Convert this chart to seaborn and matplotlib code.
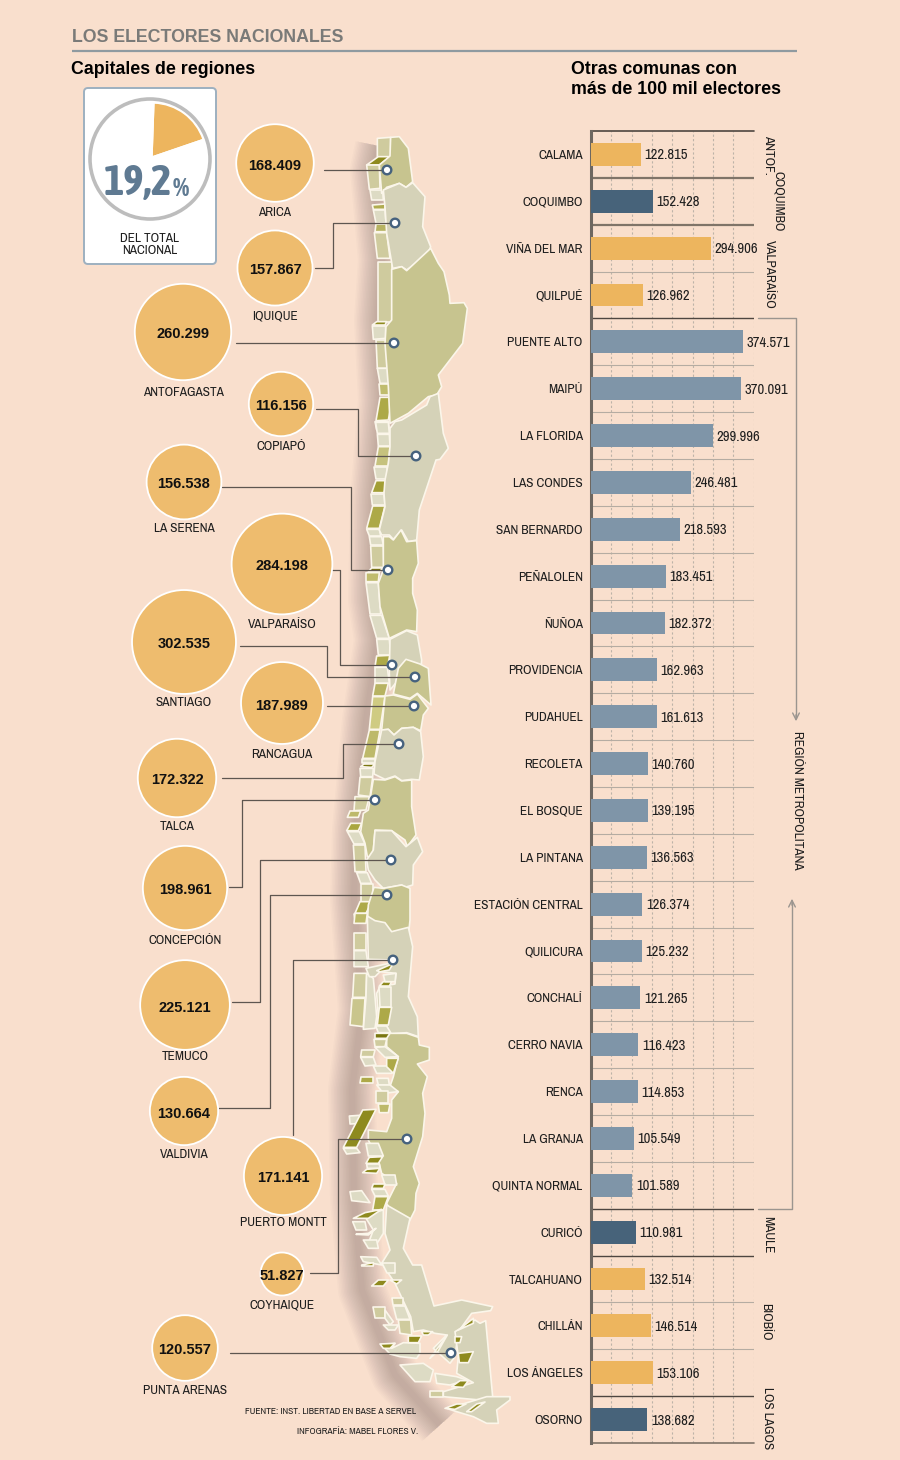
import matplotlib
matplotlib.use("Agg")
import matplotlib.pyplot as plt
from matplotlib.patches import Polygon, FancyBboxPatch, Circle
from matplotlib.colors import Normalize
import pandas as pd
import seaborn as sns

sns.set_theme(style="white")
NARROW = ["Archivo Narrow", "Asap Condensed", "Liberation Sans", "DejaVu Sans"]
NARROW_B = ["Asap Condensed", "Liberation Sans", "DejaVu Sans"]
BOLD = ["Liberation Sans", "DejaVu Sans"]
plt.rcParams["font.family"] = NARROW

# data: capitals
capitales = ["ARICA", "IQUIQUE", "ANTOFAGASTA", "COPIAPÓ", "LA SERENA", "VALPARAÍSO", "SANTIAGO", "RANCAGUA",
             "TALCA", "CONCEPCIÓN", "TEMUCO", "VALDIVIA", "PUERTO MONTT", "COYHAIQUE", "PUNTA ARENAS"]
electores_cap = [168409, 157867, 260299, 116156, 156538, 284198, 302535, 187989,
                 172322, 198961, 225121, 130664, 171141, 51827, 120557]

# data: other communes
comunas = ["CALAMA", "COQUIMBO", "VIÑA DEL MAR", "QUILPUÉ", "PUENTE ALTO", "MAIPÚ", "LA FLORIDA", "LAS CONDES",
           "SAN BERNARDO", "PEÑALOLEN", "ÑUÑOA", "PROVIDENCIA", "PUDAHUEL", "RECOLETA", "EL BOSQUE", "LA PINTANA",
           "ESTACIÓN CENTRAL", "QUILICURA", "CONCHALÍ", "CERRO NAVIA", "RENCA", "LA GRANJA", "QUINTA NORMAL",
           "CURICÓ", "TALCAHUANO", "CHILLÁN", "LOS ÁNGELES", "OSORNO"]
electores_com = [122815, 152428, 294906, 126962, 374571, 370091, 299996, 246481,
                 218593, 183451, 182372, 162963, 161613, 140760, 139195, 136563,
                 126374, 125232, 121265, 116423, 114853, 105549, 101589,
                 110981, 132514, 146514, 153106, 138682]
grupo_com = ["a", "b", "a", "a"] + ["m"] * 19 + ["b", "a", "a", "a", "b"]
pct_nacional = 19.2

BG = "#F9DFCD"
GOLD = "#EDB55E"
DARK = "#47637A"
STEEL = "#7F95A8"
CREAM = "#D5D2B8"
OLIVE = "#C7C48F"
INK = "#1E1E1E"

# layout of bubbles: centre x, centre y, label y
pos_cap = [(275, 163, 211), (275, 268, 315), (183, 332, 391), (281, 404, 445), (184, 482, 527), (282, 564, 624),
           (184, 642, 702), (282, 703, 753), (177, 778, 825), (185, 888, 939), (185, 1005, 1056), (184, 1111, 1154),
           (283, 1176, 1222), (282, 1274, 1304), (185, 1348, 1389)]

# leader lines, last point is the city dot
leaders = [
    [(324, 170), (387, 170)],
    [(315, 268), (333, 268), (333, 223), (395, 223)],
    [(236, 343), (394, 343)],
    [(316, 409), (358, 409), (358, 456), (416, 456)],
    [(222, 487), (351, 487), (351, 570), (388, 570)],
    [(332, 570), (340, 570), (340, 665), (392, 665)],
    [(240, 646), (327, 646), (327, 677), (415, 677)],
    [(327, 706), (414, 706)],
    [(222, 778), (343, 778), (343, 744), (399, 744)],
    [(229, 887), (242, 887), (242, 800), (375, 800)],
    [(232, 1002), (260, 1002), (260, 860), (391, 860)],
    [(217, 1108), (270, 1108), (270, 895), (387, 895)],
    [(293, 1135), (293, 960), (393, 960)],
    [(310, 1273), (338, 1273), (338, 1139), (407, 1139)],
    [(230, 1353), (451, 1353)],
]


def z(ox, oy, pts):
    # map outlines were traced on 3x crops, back to figure pixels
    return [(ox + a / 3, oy + b / 3) for a, b in pts]


Z3, Z6, Z7, Z8, Z4 = (340, 130), (340, 390), (330, 650), (330, 910), (340, 1200)
C_DK, C_MID, C_LO, C_CR = "#8E8A1E", "#ADA948", "#CFCB9E", "#DDDBC4"

# coast islands and strips: (origin, colour, points)
islas = [
    (Z3, C_LO, [(112, 25), (152, 22), (152, 80), (112, 100)]),
    (Z3, C_DK, [(80, 105), (115, 80), (150, 80), (118, 105)]),
    (Z3, C_LO, [(80, 105), (118, 105), (120, 175), (88, 178)]),
    (Z3, C_CR, [(90, 180), (128, 180), (130, 210), (95, 210)]),
    (Z3, "#B0AC50", [(97, 225), (135, 222), (135, 238), (100, 238)]),
    (Z3, C_CR, [(100, 240), (135, 240), (138, 280), (108, 280)]),
    (Z3, "#B7B362", [(108, 282), (145, 282), (140, 305), (105, 305)]),
    (Z3, C_LO, [(103, 308), (140, 308), (150, 385), (112, 385)]),
    (Z3, C_LO, [(115, 395), (155, 395), (155, 575), (115, 575)]),
    (Z3, C_CR, [(97, 588), (137, 588), (137, 625), (100, 628)]),
    (Z3, C_DK, [(97, 585), (110, 575), (140, 575), (135, 585)]),
    (Z3, C_LO, [(108, 630), (147, 630), (150, 715), (112, 715)]),
    (Z3, C_CR, [(112, 715), (148, 715), (155, 760), (120, 760)]),
    (Z3, "#C0BC6E", [(118, 762), (155, 762), (155, 795), (120, 795)]),
    (Z3, C_MID, [(120, 802), (158, 802), (145, 870), (108, 872)]),
    (Z3, C_CR, [(105, 875), (145, 875), (148, 900), (110, 900)]),
    (Z6, C_CR, [(107, 97), (145, 97), (148, 130), (112, 130)]),
    (Z6, C_CR, [(112, 133), (148, 133), (150, 168), (115, 168)]),
    (Z6, "#C6C27E", [(115, 170), (150, 170), (145, 228), (105, 228)]),
    (Z6, C_CR, [(103, 232), (142, 232), (142, 268), (108, 268)]),
    (Z6, "#A29E35", [(108, 272), (145, 272), (132, 308), (95, 308)]),
    (Z6, C_CR, [(93, 312), (132, 312), (135, 345), (97, 345)]),
    (Z6, C_MID, [(98, 348), (135, 348), (118, 415), (80, 415)]),
    (Z6, C_CR, [(80, 418), (118, 418), (122, 438), (88, 438)]),
    (Z6, C_CR, [(88, 440), (125, 440), (130, 465), (92, 465)]),
    (Z6, C_LO, [(92, 468), (130, 468), (132, 532), (95, 532)]),
    (Z6, "#7A7610", [(85, 545), (95, 534), (130, 534), (118, 545)]),
    (Z6, "#C0BC6E", [(78, 548), (118, 548), (115, 575), (78, 575)]),
    (Z6, C_CR, [(78, 578), (115, 578), (122, 672), (90, 672)]),
    (Z6, C_CR, [(90, 676), (125, 676), (148, 745), (110, 745)]),
    (Z6, C_CR, [(110, 748), (148, 748), (152, 795), (115, 795)]),
    (Z7, C_MID, [(140, 18), (180, 16), (172, 50), (135, 50)]),
    (Z7, C_CR, [(135, 52), (172, 52), (178, 100), (135, 100)]),
    (Z7, "#B7B362", [(135, 100), (175, 100), (165, 138), (128, 138)]),
    (Z7, "#CFCB82", [(128, 140), (165, 140), (150, 238), (118, 238)]),
    (Z7, "#BDB96A", [(118, 240), (150, 240), (135, 325), (98, 325)]),
    (Z7, C_CR, [(97, 328), (135, 328), (135, 340), (95, 340)]),
    (Z7, "#7A7610", [(92, 350), (102, 342), (135, 342), (125, 352)]),
    (Z7, C_CR, [(90, 355), (130, 355), (128, 380), (92, 380)]),
    (Z7, C_LO, [(90, 382), (128, 382), (120, 440), (85, 435)]),
    (Z7, C_LO, [(75, 440), (118, 440), (108, 480), (72, 482)]),
    (Z7, "#BDB96A", [(60, 483), (92, 483), (85, 502), (52, 502)]),
    (Z7, "#AAA640", [(62, 520), (95, 520), (85, 542), (50, 542)]),
    (Z7, C_CR, [(52, 545), (88, 545), (105, 582), (72, 582)]),
    (Z7, C_LO, [(70, 585), (105, 585), (108, 665), (75, 665)]),
    (Z7, C_CR, [(80, 668), (112, 668), (125, 700), (92, 700)]),
    (Z7, C_LO, [(92, 702), (128, 702), (128, 755), (92, 755)]),
    (Z7, C_MID, [(90, 755), (125, 755), (108, 790), (75, 790)]),
    (Z7, C_CR, [(72, 792), (110, 792), (112, 810), (75, 810)]),
    (Z8, "#BDB96A", [(75, 10), (112, 10), (108, 40), (72, 40)]),
    (Z8, C_LO, [(72, 190), (110, 190), (108, 262), (68, 262)]),
    (Z8, "#C9C58C", [(66, 265), (105, 265), (100, 350), (60, 345)]),
    (Z8, C_CR, [(110, 190), (130, 205), (135, 260), (140, 320), (135, 355), (100, 358), (108, 262)]),
    (Z8, C_LO, [(72, 70), (108, 70), (108, 120), (72, 120)]),
    (Z8, C_CR, [(72, 122), (108, 122), (115, 170), (72, 170)]),
]

regiones = [
    (Z3, OLIVE, [(152, 22), (178, 20), (205, 55), (218, 155), (198, 172), (178, 160), (140, 172), (125, 190),
                 (118, 105), (150, 78)]),
    (Z3, CREAM, [(130, 180), (178, 160), (198, 172), (218, 158), (255, 200), (248, 290), (272, 350), (262, 375),
                 (200, 420), (185, 410), (158, 415), (140, 310), (135, 230)]),
    (Z3, OLIVE, [(155, 418), (185, 410), (200, 422), (272, 355), (295, 400), (312, 425), (328, 495), (330, 520),
                 (372, 518), (382, 535), (368, 640), (295, 735), (305, 770), (290, 795), (265, 800), (205, 850),
                 (150, 880), (145, 770), (135, 640), (138, 590), (155, 570)]),
    (Z6, CREAM, [(150, 115), (165, 95), (185, 90), (260, 45), (270, 20), (295, 10), (305, 90), (310, 130), (325, 175),
                 (300, 208), (288, 210), (238, 360), (230, 450), (205, 455), (185, 420), (160, 448), (148, 435),
                 (125, 435), (118, 420), (135, 350), (132, 310), (135, 270), (145, 220), (150, 170)]),
    (Z6, OLIVE, [(130, 440), (148, 440), (160, 450), (183, 420), (200, 455), (230, 452), (235, 520), (218, 565),
                 (218, 610), (232, 660), (230, 725), (200, 720), (148, 745), (120, 650), (115, 580), (130, 540)]),
    (Z6, CREAM, [(150, 748), (200, 722), (232, 735), (245, 810), (242, 850), (175, 870), (150, 900), (148, 850)]),
    (Z7, OLIVE, [(228, 28), (270, 42), (295, 55), (303, 165), (262, 130), (240, 145), (190, 132), (205, 55)]),
    (Z7, OLIVE, [(165, 138), (190, 135), (240, 148), (262, 132), (295, 175), (280, 195), (272, 242), (250, 232),
                 (215, 235), (192, 255), (175, 238), (155, 240)]),
    (Z7, CREAM, [(155, 240), (175, 238), (192, 255), (215, 235), (250, 232), (272, 245), (280, 320), (268, 390),
                 (245, 388), (215, 392), (195, 378), (165, 388), (132, 372), (135, 335)]),
    (Z7, OLIVE, [(130, 388), (165, 390), (195, 380), (215, 393), (245, 390), (245, 470), (258, 555), (232, 590),
                 (225, 570), (185, 542), (135, 540), (130, 600), (128, 622), (112, 620), (105, 580), (92, 545),
                 (100, 490), (115, 480)]),
    (Z7, CREAM, [(135, 542), (185, 542), (228, 590), (262, 562), (278, 605), (250, 645), (248, 705), (225, 712),
                 (215, 705), (160, 715), (135, 690), (115, 660), (110, 630), (130, 600)]),
    (Z7, OLIVE, [(132, 712), (160, 715), (215, 705), (240, 715), (240, 810), (236, 850), (185, 866), (165, 835),
                 (135, 830), (112, 818), (115, 765)]),
    (Z8, CREAM, [(112, 18), (135, 32), (165, 38), (185, 65), (235, 52), (248, 110), (235, 260), (262, 320), (265, 380),
                 (230, 368), (180, 372), (168, 345), (140, 345), (145, 320), (140, 250), (150, 230), (195, 222),
                 (198, 190), (150, 185), (135, 200), (118, 200), (108, 175), (178, 160), (190, 150), (115, 148)]),
    (Z8, OLIVE, [(170, 370), (230, 370), (265, 382), (268, 405), (298, 412), (298, 450), (262, 462), (292, 500),
                 (278, 550), (285, 610), (278, 680), (250, 770), (268, 820), (258, 850), (255, 900), (225, 960),
                 (210, 955), (170, 880), (200, 820), (155, 790), (145, 750), (115, 690), (115, 660), (170, 665),
                 (185, 625), (185, 570), (205, 545), (178, 535), (190, 500), (205, 440), (170, 410)]),
    (Z4, CREAM, [(140, 15), (210, 55), (190, 145), (218, 195), (245, 195), (282, 318), (365, 300), (458, 320),
                 (452, 332), (395, 340), (355, 395), (345, 470), (330, 490), (280, 445), (320, 405), (285, 400),
                 (250, 390), (220, 395), (212, 350), (165, 250), (125, 190), (150, 150), (135, 100)]),
    (Z4, CREAM, [(345, 395), (405, 360), (420, 370), (437, 362), (458, 590), (420, 600), (310, 590), (310, 575),
                 (400, 548), (350, 520), (355, 470)]),
    (Z4, CREAM, [(320, 625), (375, 610), (440, 590), (510, 590), (510, 600), (470, 630), (475, 670), (440, 670),
                 (400, 650), (350, 635)]),
]

# things drawn over the regions
detalles = [
    (Z8, "#7A7610", [(135, 370), (180, 370), (170, 385), (135, 385)]),
    (Z8, C_LO, [(132, 388), (170, 388), (165, 410), (135, 410)]),
    (Z8, C_CR, [(135, 412), (165, 410), (205, 440), (165, 442)]),
    (Z8, C_LO, [(95, 420), (135, 420), (130, 440), (92, 440)]),
    (Z8, C_CR, [(92, 442), (130, 442), (138, 465), (105, 468)]),
    (Z8, C_CR, [(130, 468), (190, 468), (185, 490), (140, 490)]),
    (Z8, C_MID, [(170, 445), (205, 445), (190, 490), (170, 470)]),
    (Z8, C_MID, [(92, 500), (128, 500), (128, 518), (90, 518)]),
    (Z8, C_CR, [(140, 505), (175, 505), (178, 525), (145, 525)]),
    (Z8, C_CR, [(140, 525), (180, 525), (205, 545), (160, 550)]),
    (Z8, C_LO, [(138, 542), (175, 542), (175, 578), (138, 578)]),
    (Z8, "#BDB96A", [(145, 582), (180, 582), (175, 608), (148, 608)]),
    (Z8, C_CR, [(58, 618), (105, 615), (100, 640), (60, 642)]),
    (Z8, C_DK, [(98, 600), (138, 598), (80, 712), (40, 712)]),
    (Z8, C_CR, [(40, 715), (80, 715), (90, 728), (50, 732)]),
    (Z8, C_CR, [(108, 700), (145, 700), (160, 738), (115, 738)]),
    (Z8, C_DK, [(118, 742), (158, 740), (145, 760), (108, 760)]),
    (Z8, C_CR, [(110, 762), (148, 762), (150, 775), (112, 775)]),
    (Z8, C_DK, [(110, 778), (150, 775), (140, 790), (98, 788)]),
    (Z8, C_CR, [(155, 795), (195, 795), (200, 825), (165, 825)]),
    (Z8, C_DK, [(130, 822), (165, 822), (160, 835), (125, 835)]),
    (Z8, C_CR, [(125, 838), (165, 838), (175, 858), (135, 858)]),
    (Z8, C_MID, [(135, 860), (175, 860), (160, 900), (128, 900)]),
    (Z8, C_CR, [(60, 845), (95, 842), (120, 878), (65, 872)]),
    (Z8, C_DK, [(140, 182), (190, 160), (178, 180), (150, 185)]),
    (Z8, C_CR, [(148, 232), (183, 232), (183, 290), (150, 290)]),
    (Z8, C_MID, [(148, 292), (185, 292), (175, 345), (142, 345)]),
    (Z8, C_DK, [(148, 228), (160, 215), (185, 215), (178, 228)]),
    (Z8, C_CR, [(137, 348), (170, 348), (182, 368), (145, 368)]),
    (Z8, C_CR, [(160, 195), (198, 190), (195, 215), (165, 215)]),
    (Z4, C_CR, [(38, 65), (75, 65), (80, 90), (48, 90)]),
    (Z4, C_CR, [(75, 50), (110, 35), (130, 30), (130, 100), (105, 140), (85, 130), (100, 90)]),
    (Z4, C_CR, [(70, 120), (110, 120), (115, 145), (85, 145)]),
    (Z4, C_CR, [(62, 170), (110, 172), (125, 195), (70, 185)]),
    (Z4, C_CR, [(125, 190), (165, 190), (165, 220), (140, 220)]),
    (Z4, C_LO, [(155, 295), (190, 295), (190, 315), (160, 315)]),
    (Z4, C_CR, [(160, 318), (195, 318), (210, 358), (170, 358)]),
    (Z4, C_LO, [(175, 360), (212, 360), (215, 405), (180, 400)]),
    (Z4, C_LO, [(100, 322), (135, 322), (135, 355), (105, 355)]),
    (Z4, C_CR, [(135, 330), (160, 365), (150, 375), (135, 355)]),
    (Z4, C_CR, [(130, 375), (175, 375), (165, 390), (145, 390)]),
    (Z4, C_CR, [(125, 435), (165, 430), (155, 445), (190, 428), (240, 430), (240, 460), (230, 475), (180, 470),
                (150, 462)]),
    (Z4, C_CR, [(180, 495), (250, 490), (280, 510), (270, 545), (225, 545)]),
    (Z4, C_CR, [(285, 520), (350, 530), (380, 540), (330, 555), (290, 550)]),
    (Z4, C_LO, [(270, 572), (310, 572), (310, 592), (270, 592)]),
    (Z4, C_DK, [(40, 55), (75, 38), (125, 28), (85, 55)]),
    (Z4, C_DK, [(48, 103), (85, 100), (108, 85), (85, 105)]),
    (Z4, C_DK, [(65, 195), (100, 188), (100, 198), (65, 198)]),
    (Z4, C_DK, [(95, 258), (115, 240), (145, 240), (130, 258)]),
    (Z4, C_DK, [(150, 240), (185, 240), (170, 252)]),
    (Z4, C_DK, [(205, 408), (245, 408), (235, 428), (205, 428)]),
    (Z4, C_DK, [(245, 395), (278, 395), (265, 405), (250, 405)]),
    (Z4, C_DK, [(120, 432), (165, 430), (150, 445), (130, 445)]),
    (Z4, C_DK, [(270, 475), (322, 405), (295, 452)]),
    (Z4, C_DK, [(355, 390), (400, 355), (400, 370)]),
    (Z4, C_DK, [(345, 410), (365, 410), (360, 428), (345, 428)]),
    (Z4, C_DK, [(355, 460), (400, 455), (385, 488), (358, 488)]),
    (Z4, C_DK, [(335, 560), (360, 542), (385, 542), (370, 562)]),
    (Z4, C_DK, [(315, 625), (350, 612), (378, 612), (345, 628)]),
    (Z4, C_DK, [(380, 635), (410, 612), (435, 606), (395, 635)]),
]

# runs just inside the west coast, only the left half shows
sombra = [(379, 146), (374, 170), (382, 260), (378, 320), (382, 400), (374, 500), (372, 600), (378, 640), (366, 720),
          (356, 830), (354, 900), (362, 1010), (352, 1090), (354, 1200), (362, 1290), (395, 1375), (440, 1425)]

fig = plt.figure(figsize=(9, 14.6), dpi=100, facecolor=BG)
ax = fig.add_axes([0, 0, 1, 1])
ax.set_xlim(0, 900)
ax.set_ylim(1460, 0)
ax.axis("off")


def txt(x, y, s, size=9.6, **kw):
    kw.setdefault("color", INK)
    kw.setdefault("ha", "center")
    kw.setdefault("va", "center")
    ax.text(x, y, s, fontsize=size, **kw)


# headers
txt(72, 37.5, "LOS ELECTORES NACIONALES", size=12.8, family=BOLD, weight="bold", color="#7A7A78", ha="left")
ax.plot([72, 797], [51, 51], color="#8F9AA0", lw=1.6, solid_capstyle="butt")
txt(71, 69.5, "Capitales de regiones", size=12.8, family=BOLD, weight="bold", color="black", ha="left")
txt(571, 69.5, "Otras comunas con", size=12.8, family=BOLD, weight="bold", color="black", ha="left")
txt(571, 89.5, "más de 100 mil electores", size=12.8, family=BOLD, weight="bold", color="black", ha="left")

# map
xs = [p[0] for p in sombra]
ys = [p[1] for p in sombra]
for w in range(6, 50, 3):
    ax.plot(xs, ys, color="#5A4A50", alpha=0.022, lw=w * 0.72, solid_capstyle="butt", solid_joinstyle="round", zorder=1)
for origen, color, pts in islas + regiones + detalles:
    ax.add_patch(Polygon(z(origen[0], origen[1], pts), closed=True, facecolor=color, edgecolor="#FBF6EA",
                         lw=1.2, joinstyle="round", zorder=2))

# leader lines and city dots
for tramo in leaders:
    ax.plot([p[0] for p in tramo], [p[1] for p in tramo], color="#5E5650", lw=0.9, zorder=3)
    ax.add_patch(Circle(tramo[-1], 4.3, facecolor="white", edgecolor="#46627E", lw=1.7, zorder=4))

# bubbles, area follows the value
df_cap = pd.DataFrame({"ciudad": capitales, "electores": electores_cap,
                       "x": [p[0] for p in pos_cap], "y": [p[1] for p in pos_cap]})
sns.scatterplot(data=df_cap, x="x", y="y", size="electores", ax=ax, legend=False, color="#EEBC6E",
                sizes=(960, 5603), size_norm=Normalize(min(electores_cap), max(electores_cap)),
                edgecolor="white", linewidth=1.3, zorder=5)
ax.set_xlim(0, 900)
ax.set_ylim(1460, 0)
for ciudad, v, (x, y, ly) in zip(capitales, electores_cap, pos_cap):
    txt(x, y + 2.5, f"{v:,}".replace(",", "."), size=10.5, family=BOLD, weight="bold", color="#111111", zorder=6)
    txt(x, ly + 1, ciudad, zorder=6)

# percentage card
ax.add_patch(FancyBboxPatch((84, 88), 132, 176, boxstyle="round,pad=0,rounding_size=4", facecolor="white",
                            edgecolor="#9DB0C0", lw=1.4, zorder=2))
ax.add_patch(Circle((150, 159), 60, facecolor="white", edgecolor="#BDBDBD", lw=2.6, zorder=3))
ax_pie = fig.add_axes([98 / 900, 1 - 211 / 1460, 108 / 900, 108 / 1460], zorder=3)
ax_pie.pie([pct_nacional, 100 - pct_nacional], colors=[GOLD, "none"], startangle=88, counterclock=False, radius=1)
ax_pie.set_xlim(-1, 1)
ax_pie.set_ylim(-1, 1)
ax_pie.patch.set_alpha(0)
ax_txt = fig.add_axes([0, 0, 1, 1], zorder=4)
ax_txt.set_xlim(0, 900)
ax_txt.set_ylim(1460, 0)
ax_txt.axis("off")
ax_txt.text(172, 183, "19,2", fontsize=31, color="#5F7A92", family=NARROW_B, weight="bold", ha="right", va="center")
ax_txt.text(173, 189, "%", fontsize=19, color="#5F7A92", family=NARROW_B, weight="bold", ha="left", va="center")
ax_txt.text(150, 239, "DEL TOTAL", fontsize=9.6, color=INK, ha="center", va="center")
ax_txt.text(150, 251, "NACIONAL", fontsize=9.6, color=INK, ha="center", va="center")

# footer
txt(416, 1411, "FUENTE: INST. LIBERTAD EN BASE A SERVEL", size=6.9, ha="right")
txt(418, 1432, "INFOGRAFÍA: MABEL FLORES V.", size=6.9, ha="right")

# bars
ax_b = fig.add_axes([591 / 900, 1 - 1443 / 1460, 162.6 / 900, 1312 / 1460], facecolor="none")
df_com = pd.DataFrame({"comuna": comunas, "electores": electores_com, "grupo": grupo_com})
sns.barplot(data=df_com, x="electores", y="comuna", hue="grupo", dodge=False, legend=False, ax=ax_b, width=0.49,
            palette={"a": GOLD, "b": DARK, "m": STEEL}, saturation=1, linewidth=0, zorder=3)
ax_b.set_xlim(0, 400000)
ax_b.set_ylim(27.5, -0.5)
ax_b.set_xlabel("")
ax_b.set_ylabel("")
ax_b.set_xticks(range(50000, 400001, 50000))
ax_b.tick_params(axis="x", length=0, labelbottom=False)
ax_b.tick_params(axis="y", length=0, pad=6, labelsize=9.6, labelcolor=INK)
ax_b.xaxis.grid(True, color="#BDB3A8", lw=0.8, ls=(0, (2, 2)), zorder=0)
ax_b.yaxis.grid(False)
ax_b.set_axisbelow(True)
for s in ["right", "top", "bottom"]:
    ax_b.spines[s].set_visible(False)
ax_b.spines["left"].set_color("#6E6760")
ax_b.spines["left"].set_linewidth(2.2)

oscuras = {0.5: 1.6, 1.5: 1.6, 3.5: 1.0, 22.5: 1.0, 23.5: 1.0, 26.5: 1.0}
for i in range(-1, 28):
    y = i + 0.5
    if y in oscuras:
        ax_b.axhline(y, color="#4E4640" if oscuras[y] == 1.0 else "#7F7468", lw=oscuras[y], zorder=2)
    elif y in (-0.5, 27.5):
        ax_b.axhline(y, color="#4E4640" if y < 0 else "#7F7468", lw=1.2, zorder=2, clip_on=False)
    else:
        ax_b.axhline(y, color="#B5ACA2", lw=0.8, zorder=1)

for i, v in enumerate(electores_com):
    ax_b.annotate(f"{v:,}".replace(",", "."), (v, i), xytext=(2.5, -0.7), textcoords="offset points",
                  va="center", ha="left", fontsize=10.5, color=INK)

# right side region labels
for x, y, s in [(769, 155, "ANTOF."), (779, 201, "COQUIMBO"), (769, 274, "VALPARAÍSO"), (768, 1235, "MAULE"),
                (766, 1322, "BIOBÍO"), (768, 1418, "LOS LAGOS"), (797, 800, "REGIÓN METROPOLITANA")]:
    txt(x, y, s, rotation=270)

ax.plot([758, 796, 796], [318, 318, 718], color="#9B958F", lw=1.0)
ax.plot([758, 792, 792], [1209, 1209, 902], color="#9B958F", lw=1.0)
ax.annotate("", xy=(796, 724), xytext=(796, 712), arrowprops=dict(arrowstyle="->", color="#9B958F", lw=1.0))
ax.annotate("", xy=(792, 896), xytext=(792, 908), arrowprops=dict(arrowstyle="->", color="#9B958F", lw=1.0))

fig.savefig("out.png", dpi=100, facecolor=BG)
